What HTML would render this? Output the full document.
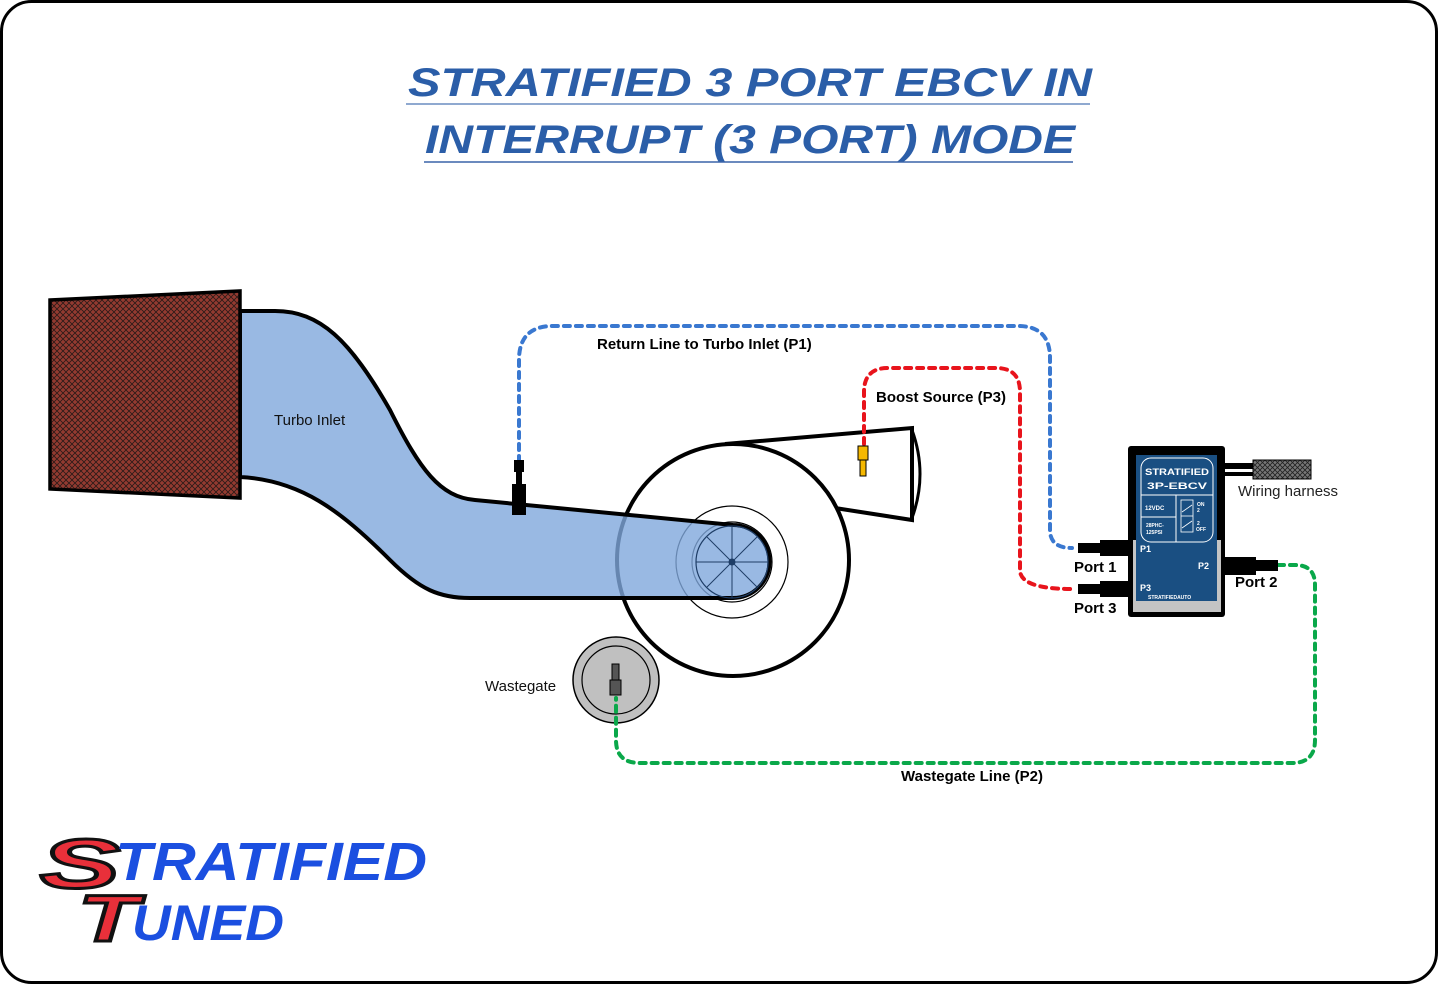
<!DOCTYPE html>
<html><head><meta charset="utf-8"><style>
html,body{margin:0;padding:0;background:#fff}
svg{display:block}
text{font-family:"Liberation Sans",sans-serif}
</style></head><body>
<svg width="1438" height="984" viewBox="0 0 1438 984" xmlns="http://www.w3.org/2000/svg">
<defs>
<pattern id="hatch" width="6" height="6" patternUnits="userSpaceOnUse">
<rect width="6" height="6" fill="#933a30"/>
<path d="M0 0L6 6M6 0L0 6" stroke="#2a1a18" stroke-width="0.8"/>
</pattern>
<pattern id="hatch2" width="5" height="5" patternUnits="userSpaceOnUse">
<rect width="5" height="5" fill="#777"/>
<path d="M0 0L5 5M5 0L0 5" stroke="#222" stroke-width="0.8"/>
</pattern>
</defs>
<rect x="1.5" y="1.5" width="1435" height="981" rx="30" fill="#fff" stroke="#000" stroke-width="3"/>

<!-- Title -->
<g fill="#2b5ea8" font-style="italic" font-weight="bold" font-size="40">
<text x="408" y="96" textLength="684" lengthAdjust="spacingAndGlyphs">STRATIFIED 3 PORT EBCV IN</text>
<text x="425" y="153" textLength="650" lengthAdjust="spacingAndGlyphs">INTERRUPT (3 PORT) MODE</text>
</g>
<line x1="406" y1="104" x2="1090" y2="104" stroke="#8fa9d0" stroke-width="2"/>
<line x1="424" y1="162" x2="1073" y2="162" stroke="#3a64a8" stroke-width="1.5"/>

<!-- turbo housing -->
<path d="M725 444 L912 428 L912 520 L835 508" fill="#fff" stroke="#000" stroke-width="4"/>
<path d="M912 430 Q928 474 912 518" fill="none" stroke="#000" stroke-width="3"/>
<circle cx="733" cy="560" r="116" fill="#fff" stroke="#000" stroke-width="4"/>
<circle cx="732" cy="562" r="56" fill="none" stroke="#000" stroke-width="1.2"/>
<circle cx="732" cy="562" r="40" fill="none" stroke="#000" stroke-width="1.2"/>

<!-- inlet pipe (semi-transparent) -->
<path d="M240 311 L275 311 C320 311 350 340 390 410 C420 470 440 497 475 500 L733 525 A36.5 36.5 0 0 1 733 598 L470 598 C440 598 420 590 390 560 C340 510 300 480 240 477 Z" fill="#7fa7dc" fill-opacity="0.8" stroke="#000" stroke-width="4"/>
<!-- impeller -->
<circle cx="732" cy="562" r="36" fill="none" stroke="#1e3d66" stroke-width="1.2"/>
<g stroke="#1e3d66" stroke-width="1">
<line x1="696" y1="562" x2="768" y2="562"/><line x1="732" y1="526" x2="732" y2="598"/>
<line x1="707" y1="537" x2="757" y2="587"/><line x1="757" y1="537" x2="707" y2="587"/>
</g>
<circle cx="732" cy="562" r="3.5" fill="#1e3d66"/>

<!-- filter -->
<path d="M50 300 L240 291 L240 498 L50 489 Z" fill="url(#hatch)" stroke="#000" stroke-width="3.5"/>
<text x="274" y="425" font-size="15" fill="#111">Turbo Inlet</text>

<!-- wastegate -->
<circle cx="616" cy="680" r="43" fill="#c0c0c0" stroke="#000" stroke-width="1.5"/>
<circle cx="616" cy="680" r="34" fill="none" stroke="#000" stroke-width="1.2"/>
<rect x="612" y="664" width="7" height="16" fill="#555" stroke="#000"/>
<rect x="610" y="680" width="11" height="15" fill="#555" stroke="#000"/>
<text x="485" y="691" font-size="15" fill="#111">Wastegate</text>

<!-- lines -->
<g fill="none" stroke-width="4" stroke-dasharray="6 6" stroke-linecap="round">
<path d="M519 462 L519 360 Q519 326 553 326 L1018 326 Q1050 326 1050 358 L1050 530 Q1050 548 1072 548" stroke="#3a78d0"/>
<path d="M864 444 L864 392 Q864 368 888 368 L996 368 Q1020 368 1020 392 L1020 570 Q1020 589 1072 589" stroke="#e8141c"/>
<path d="M1278 565 L1295 565 Q1315 565 1315 585 L1315 740 Q1315 763 1292 763 L640 763 Q616 763 616 740 L616 698" stroke="#0aa84a"/>
</g>

<!-- fittings -->
<rect x="512" y="484" width="14" height="31" fill="#000"/>
<rect x="516" y="470" width="6" height="16" fill="#000"/>
<rect x="514" y="460" width="10" height="12" fill="#000"/>
<rect x="858" y="446" width="10" height="14" fill="#f5b800" stroke="#000"/>
<rect x="860" y="460" width="6" height="16" fill="#f5b800" stroke="#000"/>

<!-- EBCV -->
<rect x="1100" y="540" width="32" height="16" fill="#000"/>
<rect x="1078" y="543" width="24" height="10" fill="#000"/>
<rect x="1100" y="581" width="32" height="16" fill="#000"/>
<rect x="1078" y="584" width="24" height="10" fill="#000"/>
<rect x="1222" y="557" width="34" height="18" fill="#000"/>
<rect x="1254" y="560" width="24" height="11" fill="#000"/>
<rect x="1222" y="463" width="36" height="6" fill="#000"/>
<rect x="1222" y="472" width="36" height="4" fill="#000"/>
<rect x="1253" y="460" width="58" height="19" fill="url(#hatch2)" stroke="#000"/>
<rect x="1128" y="446" width="97" height="171" rx="3" fill="#000"/>
<rect x="1133" y="540" width="88" height="72" fill="#c4c4c4"/>
<rect x="1136" y="455" width="81" height="146" fill="#1a4f82"/>
<rect x="1141" y="458" width="72" height="84" rx="10" fill="none" stroke="#fff" stroke-width="1"/>
<line x1="1141" y1="495" x2="1213" y2="495" stroke="#fff" stroke-width="1"/>
<line x1="1141" y1="517" x2="1176" y2="517" stroke="#fff" stroke-width="1"/>
<line x1="1176" y1="495" x2="1176" y2="542" stroke="#fff" stroke-width="1"/>
<g fill="#fff" font-weight="bold">
<text x="1145" y="475" font-size="9.5" textLength="64" lengthAdjust="spacingAndGlyphs">STRATIFIED</text>
<text x="1147" y="489" font-size="9.5" textLength="60" lengthAdjust="spacingAndGlyphs">3P-EBCV</text>
<text x="1145" y="510" font-size="6">12VDC</text>
<text x="1146" y="527" font-size="5">28PHC-</text>
<text x="1146" y="534" font-size="5">125PSI</text>
<text x="1197" y="506" font-size="5">ON</text>
<text x="1197" y="512" font-size="5">2</text>
<text x="1197" y="525" font-size="5">2</text>
<text x="1196" y="531" font-size="5">OFF</text>
<text x="1140" y="552" font-size="9">P1</text>
<text x="1198" y="569" font-size="9">P2</text>
<text x="1140" y="591" font-size="9">P3</text>
<text x="1148" y="599" font-size="5">STRATIFIEDAUTO</text>
</g>
<rect x="1181" y="500" width="12" height="32" fill="none" stroke="#fff" stroke-width="0.8"/>
<line x1="1181" y1="516" x2="1193" y2="516" stroke="#fff" stroke-width="0.8"/>
<line x1="1182" y1="512" x2="1192" y2="505" stroke="#fff" stroke-width="0.8"/>
<line x1="1182" y1="528" x2="1192" y2="521" stroke="#fff" stroke-width="0.8"/>

<!-- labels -->
<g font-size="15" fill="#000" font-weight="bold">
<text x="597" y="349">Return Line to Turbo Inlet (P1)</text>
<text x="876" y="402">Boost Source (P3)</text>
<text x="1074" y="572">Port 1</text>
<text x="1074" y="613">Port 3</text>
<text x="1235" y="587">Port 2</text>
<text x="901" y="781">Wastegate Line (P2)</text>
</g>
<text x="1238" y="496" font-size="15" fill="#222">Wiring harness</text>

<!-- logo -->
<g font-style="italic" font-weight="bold">
<text x="40" y="888" font-size="70" fill="#e8303a" stroke="#111" stroke-width="3" textLength="80" lengthAdjust="spacingAndGlyphs">S</text>
<text x="115" y="880" font-size="54" fill="#1b4fe0" textLength="312" lengthAdjust="spacingAndGlyphs">TRATIFIED</text>
<text x="78" y="941" font-size="66" fill="#e8303a" stroke="#111" stroke-width="3" textLength="60" lengthAdjust="spacingAndGlyphs">T</text>
<text x="132" y="940" font-size="50" fill="#1b4fe0" textLength="152" lengthAdjust="spacingAndGlyphs">UNED</text>
</g>
</svg>
</body></html>
